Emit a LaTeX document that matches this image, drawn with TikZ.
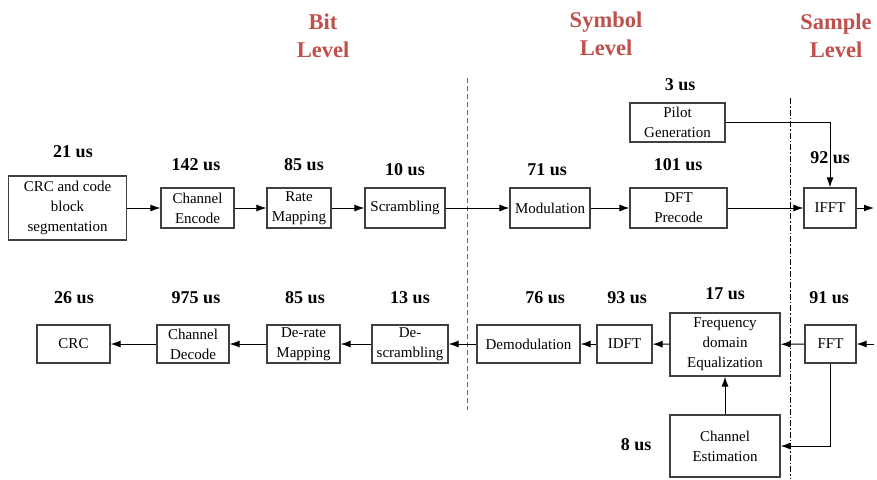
\documentclass[tikz,border=0pt]{standalone}
\usepackage{fontspec}
\setmainfont{Liberation Serif}
\usetikzlibrary{arrows.meta}
\definecolor{hdr}{HTML}{C0504D}
\tikzset{
  blk/.style={draw=black!75, line width=1.2pt, align=center, inner sep=0pt,
    font=\fontsize{15}{20}\selectfont},
  tm/.style={font=\bfseries\fontsize{18}{20}\selectfont, inner sep=0pt},
  lvl/.style={font=\bfseries\fontsize{22.5}{28}\selectfont, text=hdr, align=center, inner sep=0pt},
  conn/.style={line width=1pt, -{Latex[length=10pt,width=7pt]}},
}
\begin{document}
\begin{tikzpicture}[x=1pt,y=-1pt]
\useasboundingbox (0,0) rectangle (877,479);
% level headers
\node[lvl] (hbit) at (323,36) {Bit\\Level};
\node[lvl] (hsym) at (606,34) {Symbol\\Level};
\node[lvl] (hsam) at (836,36) {Sample\\Level};
% divider lines
\draw[black!60, line width=0.9pt, dash pattern=on 5pt off 3pt] (467,78) coordinate (d1a) -- (467,410) coordinate (d1b);
\draw[black, line width=0.7pt, dash pattern=on 6pt off 2pt on 1.5pt off 2pt] (790,98) coordinate (d2a) -- (790,479) coordinate (d2b);
% top chain
\node[blk, minimum width=118pt, minimum height=64pt] (crc) at (67.5,208) {CRC and code\\block\\segmentation};
\node[blk, minimum width=73pt, minimum height=40pt] (enc) at (197.5,208) {Channel\\Encode};
\node[blk, minimum width=64pt, minimum height=40pt] (rate) at (299,208) {Rate\\Mapping};
\node[blk, minimum width=80pt, minimum height=40pt] (scr) at (405,208) {Scrambling};
\node[blk, minimum width=80pt, minimum height=40pt] (mod) at (550,208) {Modulation};
\node[blk, minimum width=97pt, minimum height=40pt] (dft) at (678.5,208) {DFT\\Precode};
\node[blk, minimum width=52pt, minimum height=40pt] (ifft) at (830,208) {IFFT};
\node[blk, minimum width=95pt, minimum height=39pt] (pilot) at (677.5,122.5) {Pilot\\Generation};
\coordinate (out) at (874,208);
% top labels
\node[tm] (t1) at (73,152) {21 us};
\node[tm] (t2) at (196,165) {142 us};
\node[tm] (t3) at (304,165) {85 us};
\node[tm] (t4) at (405,170) {10 us};
\node[tm] (t5) at (547,170) {71 us};
\node[tm] (t6) at (678,165) {101 us};
\node[tm] (t7) at (680,85) {3 us};
\node[tm] (t8) at (830,158) {92 us};
% bottom chain
\node[blk, minimum width=73pt, minimum height=38pt] (crcb) at (73.5,344) {CRC};
\node[blk, minimum width=72pt, minimum height=38pt] (dec) at (193,344) {Channel\\Decode};
\node[blk, minimum width=73pt, minimum height=38pt] (derate) at (303.5,344) {De-rate\\Mapping};
\node[blk, minimum width=76pt, minimum height=38pt] (descr) at (410,344) {De-\\scrambling};
\node[blk, minimum width=103pt, minimum height=38pt] (demod) at (528.5,344) {Demodulation};
\node[blk, minimum width=55pt, minimum height=38pt] (idft) at (624.5,344) {IDFT};
\node[blk, minimum width=110pt, minimum height=63pt] (fde) at (725,344.5) {Frequency\\domain\\Equalization};
\node[blk, minimum width=51pt, minimum height=38pt] (fft) at (830.5,344) {FFT};
\node[blk, minimum width=110pt, minimum height=62pt] (chest) at (725,446) {Channel\\Estimation};
\coordinate (in) at (874,344);
% bottom labels
\node[tm] (b1) at (74,298) {26 us};
\node[tm] (b2) at (196,298) {975 us};
\node[tm] (b3) at (305,298) {85 us};
\node[tm] (b4) at (410,298) {13 us};
\node[tm] (b5) at (545,298) {76 us};
\node[tm] (b6) at (627,298) {93 us};
\node[tm] (b7) at (725,294) {17 us};
\node[tm] (b8) at (829,298) {91 us};
\node[tm] (b9) at (636,445) {8 us};
% top connectors
\draw[conn] (crc) -- (enc);
\draw[conn] (enc) -- (rate);
\draw[conn] (rate) -- (scr);
\draw[conn] (scr) -- (mod);
\draw[conn] (mod) -- (dft);
\draw[conn] (dft) -- (ifft);
\draw[conn] (ifft) -- (out);
\draw[conn] (pilot.east) -| (ifft.north);
% bottom connectors
\draw[conn] (in) -- (fft);
\draw[conn] (fft) -- (fde);
\draw[conn] (fde) -- (idft);
\draw[conn] (idft) -- (demod);
\draw[conn] (demod) -- (descr);
\draw[conn] (descr) -- (derate);
\draw[conn] (derate) -- (dec);
\draw[conn] (dec) -- (crcb);
\draw[conn] (fft.south) |- (chest.east);
\draw[conn] (chest.north) -- (fde.south);
\end{tikzpicture}
\end{document}
